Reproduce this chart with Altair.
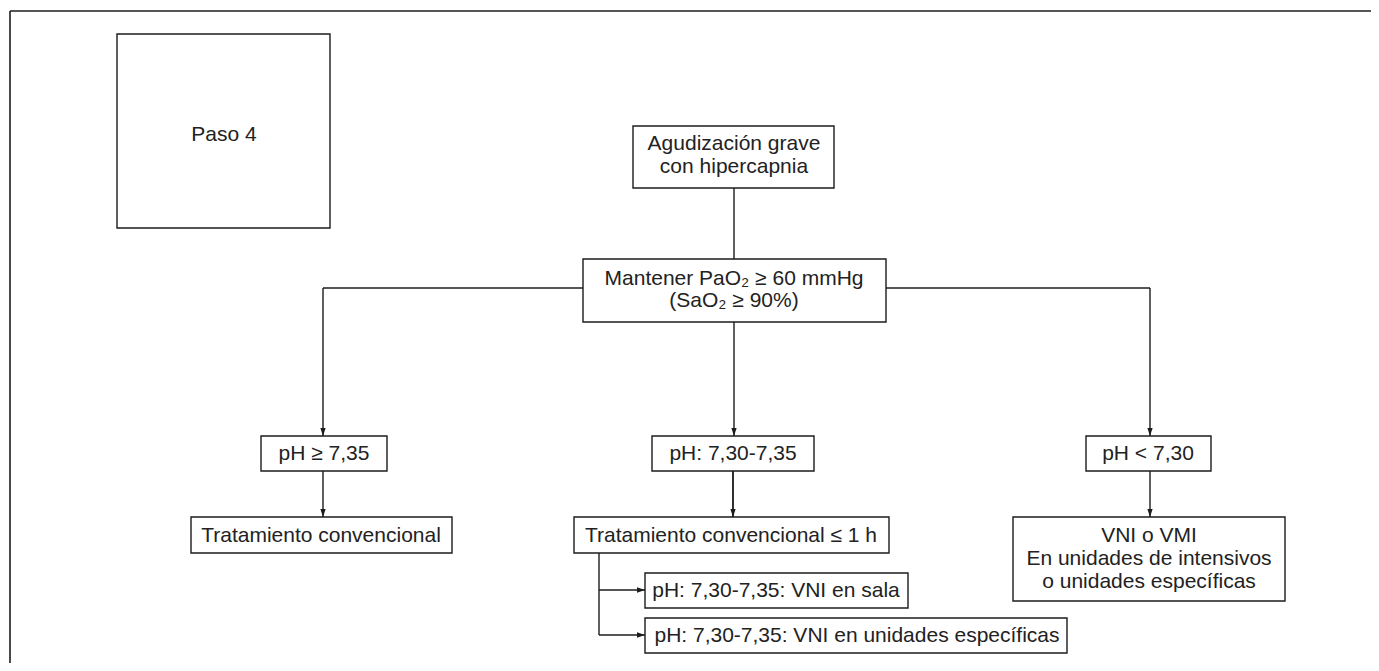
import altair as alt
import pandas as pd

# ---- canvas (screen pixel coordinates of the page) ----
W, H = 1363, 655
X0, Y0 = 8, 8

# ---- frame (only top/left edges visible in the reference) ----
frame_x1 = [10, 10]
frame_y1 = [11, 11]
frame_x2 = [10, 1371]
frame_y2 = [663, 11]

# ---- boxes ----
box_names = ["paso", "agudizacion", "mantener", "ph_alto", "ph_medio", "ph_bajo",
             "trat", "trat_1h", "vni_vmi", "vni_sala", "vni_unid"]
box_left = [117, 633, 583, 261, 652, 1086, 191, 574, 1013, 645, 645]
box_right = [330, 834, 886, 387, 814, 1211, 452, 889, 1285, 908, 1067]
box_top = [34, 126, 259, 436, 436, 436, 517, 517, 517, 573, 618]
box_bottom = [228, 188, 322, 471, 471, 471, 553, 553, 601, 608, 653]

# ---- text lines ----
text_lines = [
    "Paso 4",
    "Agudización grave", "con hipercapnia",
    "Mantener PaO₂ ≥ 60 mmHg", "(SaO₂ ≥ 90%)",
    "pH ≥ 7,35", "pH: 7,30-7,35", "pH < 7,30",
    "Tratamiento convencional", "Tratamiento convencional ≤ 1 h",
    "VNI o VMI", "En unidades de intensivos", "o unidades específicas",
    "pH: 7,30-7,35: VNI en sala",
    "pH: 7,30-7,35: VNI en unidades específicas",
]
text_x = [224, 734, 734, 734, 734, 324, 733, 1148, 321, 731, 1149, 1149, 1149, 776, 857]
text_y = [141, 150, 173, 285, 307, 460, 460, 460, 542, 542, 542, 565, 588, 597, 642]

# ---- connector segments ----
seg_x1 = [734, 323, 734, 323, 733, 1150, 323, 733, 1150, 599, 599, 599]
seg_y1 = [188, 288, 322, 288, 471, 288, 471, 471, 471, 553, 590, 635]
seg_x2 = [734, 1150, 734, 323, 733, 1150, 323, 733, 1150, 599, 645, 645]
seg_y2 = [259, 288, 436, 436, 517, 436, 517, 517, 517, 635, 590, 635]

# ---- arrow tips ----
down_x = [323, 734, 1150, 323, 733, 1150]
down_y = [436, 436, 436, 517, 517, 517]
right_x = [645, 645]
right_y = [590, 635]

INK = "#1c1c1c"
TXT = "#222222"
FONT = "Liberation Sans"

xs = alt.Scale(domain=[X0, X0 + W], nice=False, zero=False)
ys = alt.Scale(domain=[Y0, Y0 + H], nice=False, zero=False, reverse=True)

frame = pd.DataFrame({"x": frame_x1, "y": frame_y1, "x2": frame_x2, "y2": frame_y2})
boxes = pd.DataFrame({"name": box_names, "x": box_left, "x2": box_right,
                      "y": box_top, "y2": box_bottom})
texts = pd.DataFrame({"t": text_lines, "x": text_x, "y": text_y})
segs = pd.DataFrame({"x": seg_x1, "y": seg_y1, "x2": seg_x2, "y2": seg_y2})
downs = pd.DataFrame({"x": down_x, "y": down_y})
rights = pd.DataFrame({"x": right_x, "y": right_y})

frame_layer = alt.Chart(frame).mark_rule(color=INK, strokeWidth=1.6).encode(
    x=alt.X("x:Q", scale=xs, axis=None), y=alt.Y("y:Q", scale=ys, axis=None),
    x2="x2:Q", y2="y2:Q")

seg_layer = alt.Chart(segs).mark_rule(color=INK, strokeWidth=1.4).encode(
    x=alt.X("x:Q", scale=xs, axis=None), y=alt.Y("y:Q", scale=ys, axis=None),
    x2="x2:Q", y2="y2:Q")

box_layer = alt.Chart(boxes).mark_rect(fill="white", stroke=INK, strokeWidth=1.4).encode(
    x=alt.X("x:Q", scale=xs, axis=None), x2="x2:Q",
    y=alt.Y("y:Q", scale=ys, axis=None), y2="y2:Q")

text_layer = alt.Chart(texts).mark_text(
    font=FONT, fontSize=21, color=TXT, align="center", baseline="alphabetic").encode(
    x=alt.X("x:Q", scale=xs, axis=None), y=alt.Y("y:Q", scale=ys, axis=None), text="t:N")

down_layer = alt.Chart(downs).mark_point(
    shape="M -0.33 -1 L 0.33 -1 L 0 0 Z", size=256, filled=True, color=INK, opacity=1,
    strokeWidth=0).encode(
    x=alt.X("x:Q", scale=xs, axis=None), y=alt.Y("y:Q", scale=ys, axis=None))

right_layer = alt.Chart(rights).mark_point(
    shape="M -1 -0.33 L -1 0.33 L 0 0 Z", size=256, filled=True, color=INK, opacity=1,
    strokeWidth=0).encode(
    x=alt.X("x:Q", scale=xs, axis=None), y=alt.Y("y:Q", scale=ys, axis=None))

chart = alt.layer(frame_layer, seg_layer, box_layer, text_layer, down_layer, right_layer).properties(
    width=W, height=H, padding=0, autosize=alt.AutoSizeParams(type="none"),
    background="white"
).configure_view(stroke=None)

chart.save("out.html", embed_options={"renderer": "svg", "actions": False})
